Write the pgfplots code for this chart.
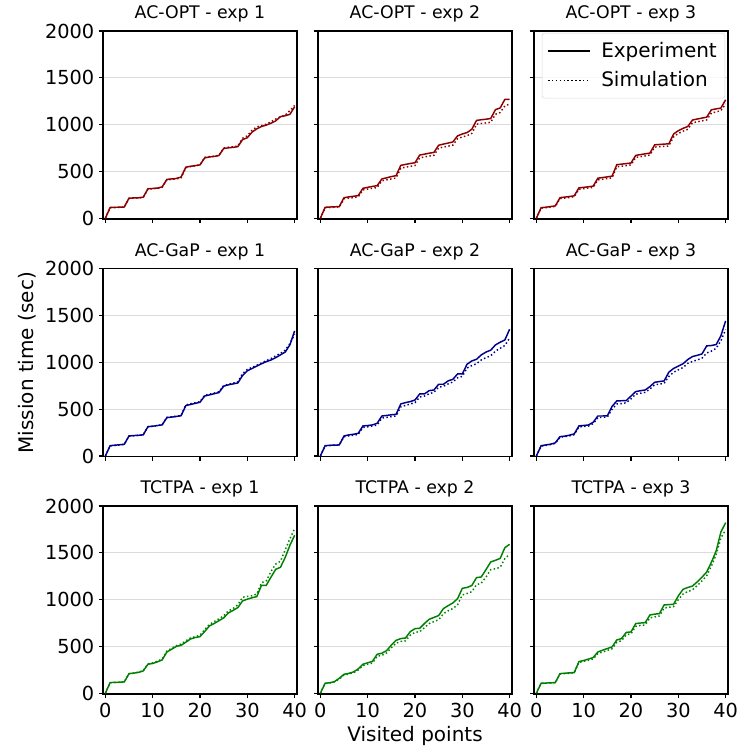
\documentclass[border=0pt]{standalone}
\usepackage{fontspec}
\setmainfont{DejaVu Sans}
\usepackage{pgfplots}
\usepackage{pgfplotstable}
\pgfplotsset{compat=1.18}

\definecolor{cred}{RGB}{139,0,0}
\definecolor{cblue}{RGB}{0,0,139}
\definecolor{cgreen}{RGB}{0,128,0}

\pgfplotstableread{
x e s
0 0 0
1 115 112
2 117 115
3 118 117
4 120 120
5 215 212
6 217 215
7 218 218
8 225 222
9 315 312
10 318 316
11 322 320
12 335 330
13 415 410
14 420 415
15 425 420
16 440 432
17 545 540
18 555 552
19 562 560
20 570 570
21 645 650
22 655 658
23 660 663
24 670 672
25 745 750
26 752 758
27 757 764
28 765 770
29 840 855
30 860 880
31 920 940
32 955 975
33 980 990
34 995 1005
35 1015 1030
36 1040 1060
37 1085 1085
38 1095 1100
39 1110 1150
40 1190 1205
}\OPTa

\pgfplotstableread{
x e s
0 0 0
1 117 112
2 120 115
3 122 118
4 125 121
5 220 208
6 228 214
7 235 221
8 242 228
9 320 303
10 330 312
11 340 320
12 348 328
13 420 400
14 432 410
15 445 420
16 455 430
17 565 535
18 575 545
19 585 555
20 593 563
21 675 645
22 685 655
23 695 665
24 703 672
25 780 750
26 792 760
27 803 770
28 815 780
29 880 850
30 900 868
31 915 882
32 950 905
33 1045 1005
34 1052 1012
35 1058 1018
36 1065 1025
37 1160 1110
38 1178 1130
39 1270 1200
40 1270 1220
}\OPTb

\pgfplotstableread{
x e s
0 0 0
1 113 108
2 118 113
3 125 120
4 132 127
5 220 210
6 226 216
7 232 222
8 240 230
9 325 310
10 330 316
11 336 322
12 343 330
13 428 410
14 435 417
15 442 424
16 450 432
17 572 550
18 578 556
19 584 562
20 590 570
21 671 650
22 680 658
23 688 666
24 696 675
25 784 760
26 788 764
27 792 768
28 795 772
29 900 870
30 935 905
31 960 930
32 980 950
33 1049 1020
34 1060 1030
35 1070 1040
36 1080 1050
37 1159 1125
38 1168 1135
39 1177 1150
40 1265 1220
}\OPTc

\pgfplotstableread{
x e s
0 0 0
1 110 108
2 115 113
3 120 118
4 125 124
5 214 212
6 218 216
7 221 220
8 226 226
9 313 312
10 318 318
11 325 325
12 332 335
13 410 412
14 415 418
15 422 425
16 430 432
17 538 545
18 550 558
19 562 570
20 574 580
21 641 648
22 652 660
23 665 672
24 677 685
25 745 752
26 760 766
27 770 778
28 780 790
29 860 880
30 910 925
31 935 945
32 960 968
33 985 993
34 1008 1018
35 1025 1040
36 1050 1070
37 1080 1095
38 1110 1130
39 1186 1200
40 1336 1300
}\GAPa

\pgfplotstableread{
x e s
0 0 0
1 110 108
2 114 112
3 116 115
4 118 118
5 214 205
6 225 215
7 232 222
8 242 230
9 321 305
10 325 312
11 332 320
12 349 330
13 427 405
14 433 412
15 440 420
16 445 428
17 556 525
18 570 540
19 581 555
20 598 570
21 663 630
22 663 640
23 698 665
24 705 680
25 766 735
26 766 745
27 802 770
28 819 790
29 876 835
30 876 850
31 980 940
32 1015 965
33 1033 985
34 1079 1025
35 1110 1050
36 1130 1070
37 1186 1120
38 1215 1150
39 1240 1180
40 1354 1260
}\GAPb

\pgfplotstableread{
x e s
0 0 0
1 110 105
2 118 113
3 126 122
4 140 135
5 207 200
6 212 206
7 222 215
8 236 228
9 321 310
10 326 315
11 331 320
12 360 345
13 427 410
14 427 412
15 430 416
16 530 500
17 588 555
18 590 560
19 592 568
20 640 610
21 688 660
22 697 670
23 705 680
24 741 715
25 787 760
26 795 768
27 802 775
28 895 850
29 935 895
30 960 920
31 985 945
32 1030 990
33 1062 1010
34 1075 1025
35 1090 1045
36 1176 1100
37 1180 1120
38 1190 1150
39 1283 1230
40 1443 1350
}\GAPc

\pgfplotstableread{
x e s
0 0 0
1 114 112
2 116 115
3 118 118
4 121 122
5 210 208
6 215 215
7 223 225
8 238 242
9 310 315
10 318 325
11 335 342
12 356 365
13 441 450
14 470 480
15 500 510
16 512 525
17 545 560
18 580 590
19 595 605
20 605 620
21 660 680
22 719 735
23 745 765
24 775 795
25 805 828
26 858 880
27 885 905
28 915 945
29 986 1025
30 1005 1035
31 1020 1040
32 1032 1060
33 1153 1180
34 1153 1200
35 1240 1300
36 1324 1380
37 1345 1410
38 1450 1530
39 1580 1650
40 1687 1758
}\TCTa

\pgfplotstableread{
x e s
0 0 0
1 107 105
2 112 110
3 125 122
4 160 152
5 203 195
6 212 205
7 228 220
8 260 248
9 310 295
10 325 310
11 340 322
12 416 395
13 428 405
14 455 430
15 515 485
16 565 535
17 584 553
18 590 560
19 658 620
20 690 650
21 694 658
22 745 700
23 790 745
24 810 765
25 830 785
26 904 850
27 935 880
28 965 905
29 1010 945
30 1121 1050
31 1130 1065
32 1150 1085
33 1235 1160
34 1242 1175
35 1320 1240
36 1402 1320
37 1420 1330
38 1440 1345
39 1555 1440
40 1591 1484
}\TCTb

\pgfplotstableread{
x e s
0 0 0
1 107 105
2 109 108
3 111 110
4 114 113
5 210 205
6 214 209
7 218 213
8 221 218
9 338 330
10 350 340
11 365 352
12 381 365
13 441 425
14 460 440
15 478 458
16 495 475
17 569 545
18 584 562
19 650 625
20 655 635
21 744 715
22 750 725
23 754 730
24 836 805
25 845 815
26 850 825
27 943 910
28 947 918
29 950 925
30 1040 1000
31 1110 1060
32 1130 1085
33 1145 1105
34 1190 1150
35 1240 1200
36 1295 1255
37 1400 1360
38 1520 1480
39 1722 1660
40 1822 1744
}\TCTc

\pgfplotsset{
  panel/.style={
    scale only axis, width=145.5pt, height=141pt, anchor=south west,
    xmin=-0.5, xmax=40.5, ymin=-8, ymax=2000,
    xtick={0,10,20,30,40}, ytick={0,500,1000,1500,2000},
    tick align=outside, xtick pos=bottom, ytick pos=left,
    major tick length=3pt,
    ymajorgrids, grid style={gray!28, line width=0.6pt},
    axis line style={line width=0.8pt},
    tick style={black, line width=0.8pt},
    ticklabel style={font=\fontsize{14.5}{16}\selectfont},
    title style={font=\fontsize{13}{15}\selectfont, yshift=-3pt},
    label style={font=\fontsize{15}{17}\selectfont},
    /pgf/number format/assume math mode=true,
    /pgf/number format/1000 sep={},
  },
  noy/.style={yticklabels={}},
  nox/.style={xticklabels={}},
  exps/.style={line width=1.1pt},
  sims/.style={line width=1.1pt, dash pattern=on 1.1pt off 1.8pt},
}

\begin{document}
\begin{tikzpicture}
\path[use as bounding box] (0,0) rectangle (555pt,563.25pt);

% Row 1
\begin{axis}[panel, nox, at={(77.25pt,399pt)}, title={AC-OPT - exp 1}]
\addplot[cred, exps] table[x=x,y=e]{\OPTa};
\addplot[cred, sims] table[x=x,y=s]{\OPTa};
\end{axis}
\begin{axis}[panel, nox, noy, at={(238.5pt,399pt)}, title={AC-OPT - exp 2}]
\addplot[cred, exps] table[x=x,y=e]{\OPTb};
\addplot[cred, sims] table[x=x,y=s]{\OPTb};
\end{axis}
\begin{axis}[panel, nox, noy, at={(400.5pt,399pt)}, title={AC-OPT - exp 3},
  legend style={at={(rel axis cs:0.985,0.99)}, anchor=north east,
    draw=gray!30, rounded corners=2pt, fill=white, fill opacity=0.8, text opacity=1,
    font=\fontsize{15}{18}\selectfont, row sep=5pt, column sep=6pt,
    inner xsep=4pt, inner ysep=5pt},
  legend cell align=left,
  legend image code/.code={\draw[#1] (0cm,0cm) -- (1.1cm,0cm);}]
\addlegendimage{black, exps}
\addlegendentry{Experiment}
\addlegendimage{black, sims}
\addlegendentry{Simulation}
\addplot[cred, exps, forget plot] table[x=x,y=e]{\OPTc};
\addplot[cred, sims, forget plot] table[x=x,y=s]{\OPTc};
\end{axis}

% Row 2
\begin{axis}[panel, nox, at={(77.25pt,220.7pt)}, title={AC-GaP - exp 1}, ylabel={Mission time (sec)}]
\addplot[cblue, exps] table[x=x,y=e]{\GAPa};
\addplot[cblue, sims] table[x=x,y=s]{\GAPa};
\end{axis}
\begin{axis}[panel, nox, noy, at={(238.5pt,220.7pt)}, title={AC-GaP - exp 2}]
\addplot[cblue, exps] table[x=x,y=e]{\GAPb};
\addplot[cblue, sims] table[x=x,y=s]{\GAPb};
\end{axis}
\begin{axis}[panel, nox, noy, at={(400.5pt,220.7pt)}, title={AC-GaP - exp 3}]
\addplot[cblue, exps] table[x=x,y=e]{\GAPc};
\addplot[cblue, sims] table[x=x,y=s]{\GAPc};
\end{axis}

% Row 3
\begin{axis}[panel, at={(77.25pt,42.75pt)}, title={TCTPA - exp 1}]
\addplot[cgreen, exps] table[x=x,y=e]{\TCTa};
\addplot[cgreen, sims] table[x=x,y=s]{\TCTa};
\end{axis}
\begin{axis}[panel, noy, at={(238.5pt,42.75pt)}, title={TCTPA - exp 2}, xlabel={Visited points}]
\addplot[cgreen, exps] table[x=x,y=e]{\TCTb};
\addplot[cgreen, sims] table[x=x,y=s]{\TCTb};
\end{axis}
\begin{axis}[panel, noy, at={(400.5pt,42.75pt)}, title={TCTPA - exp 3}]
\addplot[cgreen, exps] table[x=x,y=e]{\TCTc};
\addplot[cgreen, sims] table[x=x,y=s]{\TCTc};
\end{axis}
\end{tikzpicture}
\end{document}
